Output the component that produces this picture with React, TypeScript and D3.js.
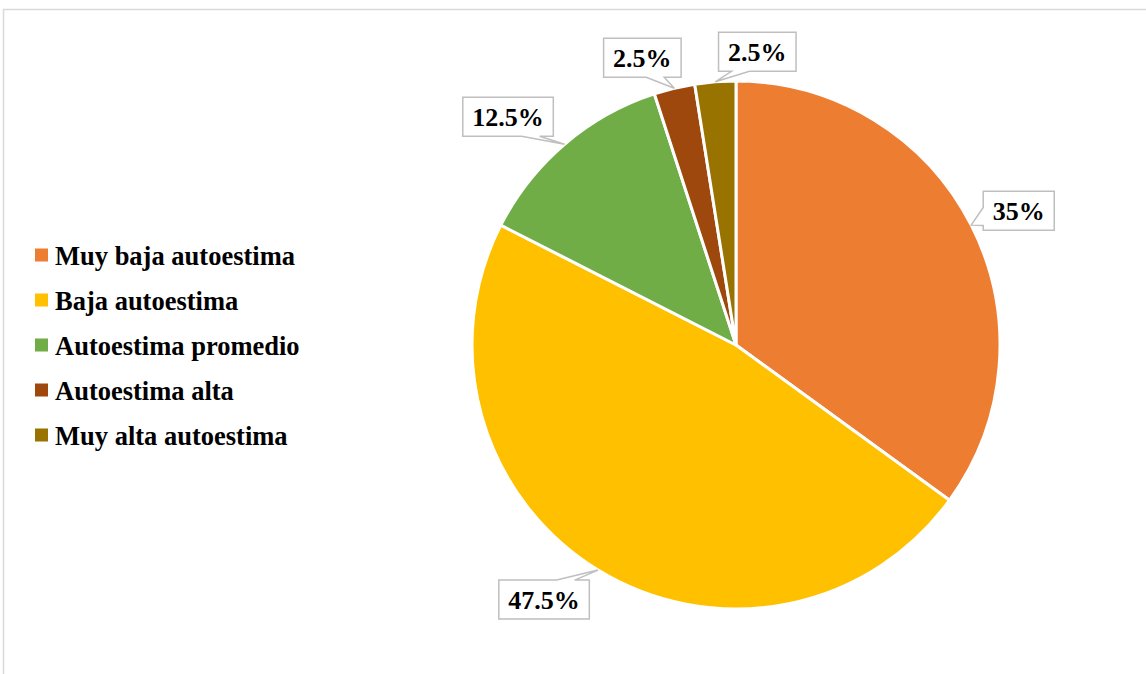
import React from "react";
import * as d3 from "d3";

const categories = [
  "Muy baja autoestima",
  "Baja autoestima",
  "Autoestima promedio",
  "Autoestima alta",
  "Muy alta autoestima",
];
const values = [35, 47.5, 12.5, 2.5, 2.5];
const labels = ["35%", "47.5%", "12.5%", "2.5%", "2.5%"];
const colors = ["#ED7D31", "#FFC000", "#70AD47", "#9E480E", "#997300"];

// label box offsets (from slice edge point) and side of the callout pointer
const labelOffsets: [number, number][] = [
  [47.5, -14.5],
  [-54, 29.5],
  [-56.5, -27.5],
  [-32, -30.5],
  [42, -30],
];
const labelSides = ["left", "top", "bottom", "bottom", "bottom"];

const W = 1146;
const H = 674;
const FONT = "'Times New Roman', 'Liberation Serif', serif";

const charW: Record<string, number> = { "%": 1, ".": 0.25 };
function textWidth(s: string, size: number) {
  let w = 0;
  for (const c of s) w += charW[c] ?? 0.5;
  return w * size;
}

export default function App() {
  const cx = 736;
  const cy = 345;
  const r = 264;
  const pie = d3.pie<number>().sort(null).value((d) => d);
  const arcs = pie(values);
  const arc = d3.arc<d3.PieArcDatum<number>>().innerRadius(0).outerRadius(r);
  const fs = 26;

  return (
    <svg
      width={W}
      height={H}
      style={{ position: "absolute", left: 0, top: 0, background: "#fff" }}
    >
      <rect x={3.5} y={9.5} width={1200} height={700} fill="#fff" stroke="#d9d9d9" strokeWidth={1.5} />
      <g transform={`translate(${cx},${cy})`}>
        {arcs.map((a, i) => (
          <path key={i} d={arc(a) || ""} fill={colors[i]} stroke="#fff" strokeWidth={3} strokeLinejoin="round" />
        ))}
      </g>
      {arcs.map((a, i) => {
        const mid = (a.startAngle + a.endAngle) / 2;
        const tx = cx + r * Math.sin(mid);
        const ty = cy - r * Math.cos(mid);
        const bx = tx + labelOffsets[i][0];
        const by = ty + labelOffsets[i][1];
        const bw = textWidth(labels[i], fs) + 19;
        const bh = 39;
        const L = bx - bw / 2;
        const R = bx + bw / 2;
        const T = by - bh / 2;
        const B = by + bh / 2;
        const hw = 9;
        const side = labelSides[i];
        let d = "";
        if (side === "left") {
          let c = by + 0.4 * (ty - by);
          c = Math.max(T + hw + 1, Math.min(B - hw - 1, c));
          d = `M${L},${T}H${R}V${B}H${L}V${c + hw}L${tx},${ty}L${L},${c - hw}Z`;
        } else if (side === "top") {
          let c = bx + 0.4 * (tx - bx);
          c = Math.max(L + hw + 1, Math.min(R - hw - 1, c));
          d = `M${L},${T}H${c - hw}L${tx},${ty}L${c + hw},${T}H${R}V${B}H${L}Z`;
        } else {
          let c = bx + 0.4 * (tx - bx);
          c = Math.max(L + hw + 1, Math.min(R - hw - 1, c));
          d = `M${L},${T}H${R}V${B}H${c + hw}L${tx},${ty}L${c - hw},${B}H${L}Z`;
        }
        return (
          <g key={i}>
            <path d={d} fill="#fff" stroke="#bfbfbf" strokeWidth={1.5} strokeLinejoin="miter" />
            <text
              x={bx}
              y={by + 9}
              textAnchor="middle"
              fontFamily={FONT}
              fontWeight="bold"
              fontSize={fs}
              fill="#000"
            >
              {labels[i]}
            </text>
          </g>
        );
      })}
      <g>
        {categories.map((c, i) => (
          <g key={i} transform={`translate(35,${255 + i * 45})`}>
            <rect x={0} y={-6.5} width={13} height={13} fill={colors[i]} />
            <text x={20} y={10} fontFamily={FONT} fontWeight="bold" fontSize={26.5} fill="#000">
              {c}
            </text>
          </g>
        ))}
      </g>
    </svg>
  );
}
